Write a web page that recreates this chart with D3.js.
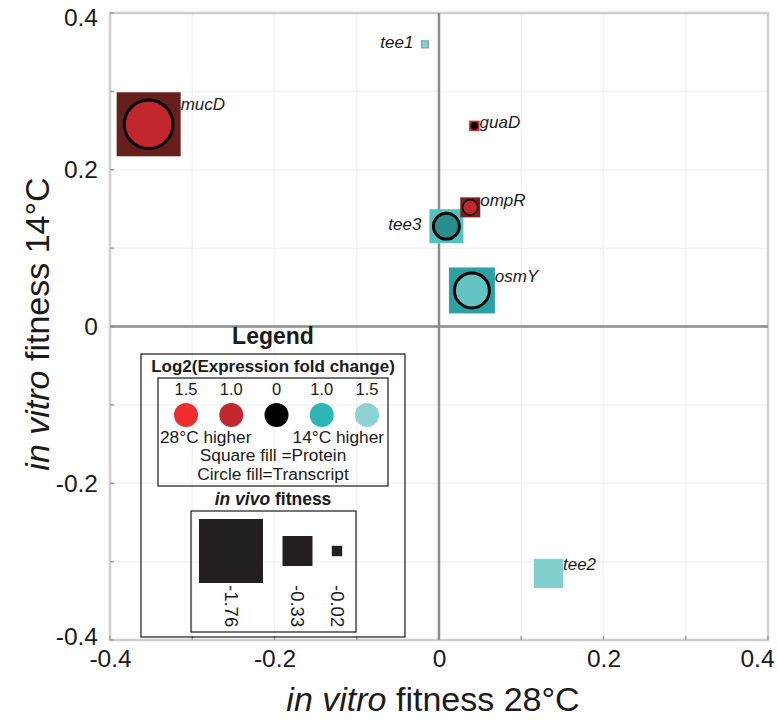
<!DOCTYPE html>
<html>
<head>
<meta charset="utf-8">
<script src="https://cdn.jsdelivr.net/npm/d3@7"></script>
<style>
  body { margin: 0; background: #fff; }
  text { font-family: "Liberation Sans", Arial, sans-serif; }
</style>
</head>
<body>
<div id="chart"></div>
<script>
// genes: in vitro fitness at 28C (x) and 14C (y), in vivo fitness (square size)
const genes     = ["mucD", "tee3", "osmY", "tee2", "ompR", "guaD", "tee1"];
const fit28     = [-0.353, 0.009, 0.040, 0.133, 0.038, 0.043, -0.017];
const fit14     = [0.258, 0.128, 0.046, -0.315, 0.152, 0.256, 0.360];
const inVivo    = [-1.76, -0.44, -0.86, -0.31, -0.125, -0.02, -0.005];
// log2 fold change, positive = 28C higher, negative = 14C higher (null = no data)
const protein    = [0.55, -1.18, -0.9, -1.43, 0.63, 1.15, -1.43];
const transcript = [1.0, -0.8, -1.25, null, 1.0, 0, null];
const labelLeft  = ["tee1", "tee3"];

const xTicks = [-0.4, -0.2, 0, 0.2, 0.4];
const yTicks = [-0.4, -0.2, 0, 0.2, 0.4];
const tickLabel = d => d === 0 ? "0" : (d < 0 ? "-" : "") + Math.abs(d).toFixed(1);

const legendFC     = [1.5, 1.0, 0, -1.0, -1.5];
const legendFCText = ["1.5", "1.0", "0", "1.0", "1.5"];
const legendFit    = [-1.76, -0.33, -0.02];

const W = 779, H = 720;
const ink = "#1a1a1a";
const svg = d3.select("#chart").append("svg").attr("width", W).attr("height", H);

const x = d3.scaleLinear().domain([-0.4, 0.4]).range([110, 768]);
const y = d3.scaleLinear().domain([-0.4, 0.4]).range([640, 13]);
const size = d3.scaleSqrt().domain([0, 1.76]).range([4, 64]);
const color = d3.scaleLinear()
  .domain([-1.5, -1, 0, 1, 1.5])
  .range(["#8dd3d3", "#2bb5b5", "#000000", "#c1272d", "#ee2d2f"])
  .interpolate(d3.interpolateLab);

// faint grid
const fine = d3.range(-0.4, 0.41, 0.1);
svg.append("g").selectAll("line").data(fine).join("line")
  .attr("x1", d => x(d)).attr("x2", d => x(d))
  .attr("y1", y(0.4)).attr("y2", y(-0.4))
  .attr("stroke", "#f3f3f3").attr("stroke-width", 1.5);
svg.append("g").selectAll("line").data(fine).join("line")
  .attr("y1", d => y(d)).attr("y2", d => y(d))
  .attr("x1", x(-0.4)).attr("x2", x(0.4))
  .attr("stroke", "#f3f3f3").attr("stroke-width", 1.5);

// frame
svg.append("rect")
  .attr("x", x(-0.4)).attr("y", y(0.4))
  .attr("width", x(0.4) - x(-0.4)).attr("height", y(-0.4) - y(0.4))
  .attr("fill", "none").attr("stroke", "#cfcfcf").attr("stroke-width", 2.5);

// axes with inward minor ticks
const yAxis = d3.axisLeft(y).tickValues(yTicks).tickFormat(tickLabel).tickSize(0).tickPadding(12);
const xAxis = d3.axisBottom(x).tickValues(xTicks).tickFormat(tickLabel).tickSize(0).tickPadding(10);
const gy = svg.append("g").attr("transform", `translate(${x(-0.4)},0)`).call(yAxis);
const gx = svg.append("g").attr("transform", `translate(0,${y(-0.4)})`).call(xAxis);
[gx, gy].forEach(g => {
  g.select(".domain").remove();
  g.selectAll("text").attr("font-size", 24.5).attr("fill", ink)
    .attr("font-family", "'Liberation Sans', Arial, sans-serif");
});
gx.selectAll(".tick text").filter(d => d === 0.4).attr("dx", -11);
gy.selectAll(".tick text").filter(d => d === 0.4).attr("y", 5);
gy.selectAll(".tick text").filter(d => d === -0.4).attr("y", -3);

svg.append("g").selectAll("line").data(fine).join("line")
  .attr("x1", x(-0.4)).attr("x2", x(-0.4) + 4)
  .attr("y1", d => y(d)).attr("y2", d => y(d))
  .attr("stroke", "#a0a0a0").attr("stroke-width", 1.5);
svg.append("g").selectAll("line").data(fine).join("line")
  .attr("y1", y(-0.4)).attr("y2", y(-0.4) - 4)
  .attr("x1", d => x(d)).attr("x2", d => x(d))
  .attr("stroke", "#a0a0a0").attr("stroke-width", 1.5);

// zero lines
svg.append("line").attr("x1", x(0)).attr("x2", x(0)).attr("y1", y(0.4)).attr("y2", y(-0.4))
  .attr("stroke", "#8c8c8c").attr("stroke-width", 2.5);
svg.append("line").attr("y1", y(0)).attr("y2", y(0)).attr("x1", x(-0.4)).attr("x2", x(0.4))
  .attr("stroke", "#8c8c8c").attr("stroke-width", 2.5);

// axis titles
const xt = svg.append("text").attr("x", 433).attr("y", 711).attr("text-anchor", "middle")
  .attr("font-size", 34).attr("fill", ink);
xt.append("tspan").attr("font-style", "italic").text("in vitro");
xt.append("tspan").text(" fitness 28°C");
const yt = svg.append("text").attr("transform", "translate(49,324) rotate(-90)")
  .attr("text-anchor", "middle").attr("font-size", 34).attr("fill", ink);
yt.append("tspan").attr("font-style", "italic").text("in vitro");
yt.append("tspan").text(" fitness 14°C");

// points
const pts = genes.map((g, i) => ({
  gene: g, x: fit28[i], y: fit14[i], s: size(Math.abs(inVivo[i])),
  p: protein[i], t: transcript[i]
})).sort((a, b) => b.s - a.s);

const gp = svg.append("g").selectAll("g").data(pts).join("g")
  .attr("transform", d => `translate(${x(d.x)},${y(d.y)})`);
gp.append("rect")
  .attr("x", d => -d.s / 2).attr("y", d => -d.s / 2)
  .attr("width", d => d.s).attr("height", d => d.s)
  .attr("fill", d => color(d.p))
  .attr("stroke", d => d.s < 8 ? "#8a9a9a" : "none").attr("stroke-width", 1);
gp.filter(d => d.t !== null).append("circle")
  .attr("r", d => d.s * 0.38)
  .attr("fill", d => color(d.t))
  .attr("stroke", "#000")
  .attr("stroke-width", d => d.s > 25 ? 3 : (d.s > 15 ? 1.5 : 0));

gp.append("text")
  .attr("font-style", "italic").attr("font-size", 17).attr("fill", ink)
  .attr("text-anchor", d => labelLeft.includes(d.gene) ? "end" : "start")
  .attr("x", d => labelLeft.includes(d.gene) ? -d.s / 2 - 8 : d.s / 2)
  .attr("y", d => labelLeft.includes(d.gene) ? 4 : 5 - 0.3 * d.s)
  .text(d => d.gene);

// legend
const lg = svg.append("g");
lg.append("text").attr("x", 273).attr("y", 344).attr("text-anchor", "middle")
  .attr("font-size", 23).attr("font-weight", "bold").attr("fill", ink).text("Legend");
lg.append("rect").attr("x", 141).attr("y", 354).attr("width", 264).attr("height", 283)
  .attr("fill", "none").attr("stroke", ink).attr("stroke-width", 1.2);
lg.append("text").attr("x", 273).attr("y", 372).attr("text-anchor", "middle")
  .attr("font-size", 17).attr("font-weight", "bold").attr("fill", ink)
  .text("Log2(Expression fold change)");
lg.append("rect").attr("x", 158).attr("y", 378).attr("width", 230).attr("height", 108)
  .attr("fill", "none").attr("stroke", ink).attr("stroke-width", 1.2);

const lx = d3.scalePoint().domain(d3.range(legendFC.length)).range([186, 367]);
lg.selectAll("circle.fc").data(legendFC).join("circle")
  .attr("cx", (d, i) => lx(i)).attr("cy", 415).attr("r", 12)
  .attr("fill", d => color(d));
lg.selectAll("text.fc").data(legendFCText).join("text")
  .attr("x", (d, i) => lx(i)).attr("y", 395).attr("text-anchor", "middle")
  .attr("font-size", 16.5).attr("fill", ink).text(d => d);
lg.append("text").attr("x", 160).attr("y", 443).attr("font-size", 17.3).attr("fill", ink)
  .text("28°C higher");
lg.append("text").attr("x", 384).attr("y", 443).attr("text-anchor", "end")
  .attr("font-size", 17.3).attr("fill", ink).text("14°C higher");
lg.append("text").attr("x", 273).attr("y", 461).attr("text-anchor", "middle")
  .attr("font-size", 17.3).attr("fill", ink).text("Square fill =Protein");
lg.append("text").attr("x", 273).attr("y", 480).attr("text-anchor", "middle")
  .attr("font-size", 17.3).attr("fill", ink).text("Circle fill=Transcript");

const iv = lg.append("text").attr("x", 273).attr("y", 505).attr("text-anchor", "middle")
  .attr("font-size", 17.5).attr("font-weight", "bold").attr("fill", ink);
iv.append("tspan").attr("font-style", "italic").text("in vivo");
iv.append("tspan").text(" fitness");
lg.append("rect").attr("x", 191).attr("y", 511).attr("width", 165).attr("height", 121)
  .attr("fill", "none").attr("stroke", ink).attr("stroke-width", 1.2);

const fx = [231, 297.5, 337];
lg.selectAll("rect.fit").data(legendFit).join("rect")
  .attr("x", (d, i) => fx[i] - size(-d) / 2).attr("y", d => 551 - size(-d) / 2)
  .attr("width", d => size(-d)).attr("height", d => size(-d))
  .attr("fill", "#231f20");
lg.selectAll("text.fit").data(legendFit).join("text")
  .attr("transform", (d, i) => `translate(${fx[i] - 6.5},585) rotate(90)`)
  .attr("font-size", 18.5).attr("fill", ink)
  .text(d => "-" + Math.abs(d).toFixed(2));
</script>
</body>
</html>
